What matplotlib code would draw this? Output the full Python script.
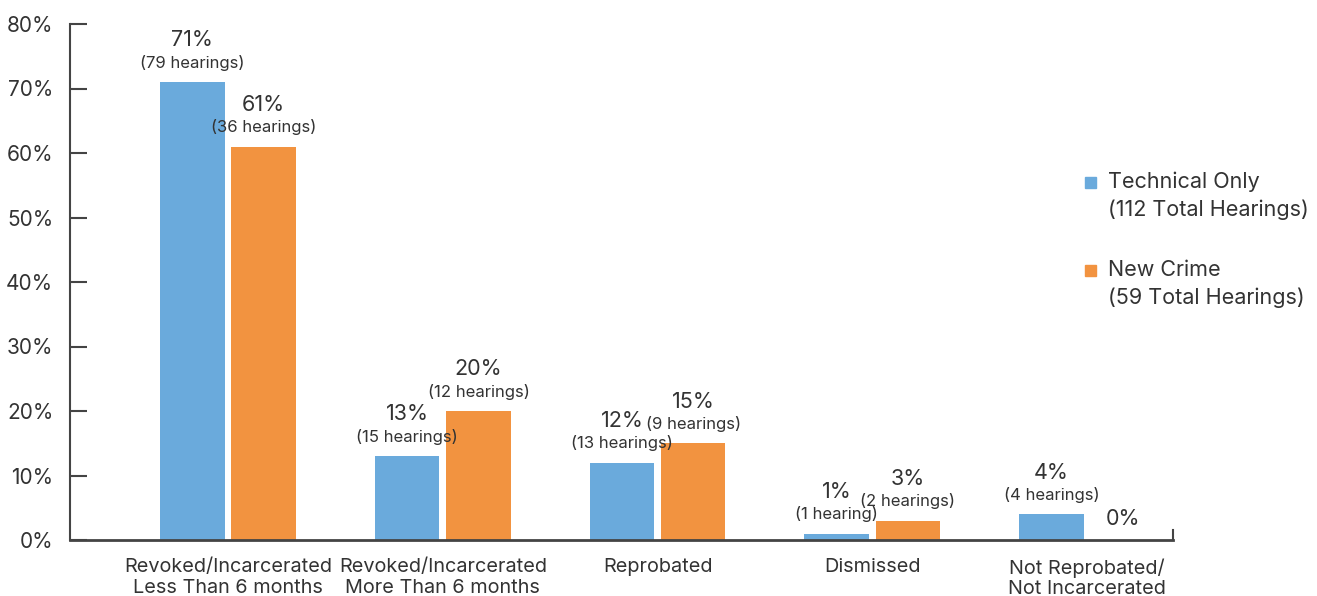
import matplotlib
matplotlib.use("Agg")
import matplotlib.pyplot as plt
import numpy as np
from matplotlib.patches import Rectangle

plt.rcParams["font.family"] = ["Inter", "DejaVu Sans"]

categories = [
    "Revoked/Incarcerated\nLess Than 6 months",
    "Revoked/Incarcerated\nMore Than 6 months",
    "Reprobated",
    "Dismissed",
    "Not Reprobated/\nNot Incarcerated",
]
technical_pct = [71, 13, 12, 1, 4]
technical_n = ["(79 hearings)", "(15 hearings)", "(13 hearings)", "(1 hearing)", "(4 hearings)"]
newcrime_pct = [61, 20, 15, 3, 0]
newcrime_n = ["(36 hearings)", "(12 hearings)", "(9 hearings)", "(2 hearings)", ""]
y_ticks = [0, 10, 20, 30, 40, 50, 60, 70, 80]
legend_labels = [("Technical Only", "(112 Total Hearings)"), ("New Crime", "(59 Total Hearings)")]

BLUE = "#6AAADC"
ORANGE = "#F29340"
TEXT = "#333333"
AXIS = "#444444"

W, H = 1317, 596
fig = plt.figure(figsize=(W / 100, H / 100), dpi=100)
ax = fig.add_axes([70 / W, 1 - 540 / H, (1173 - 70) / W, (540 - 24) / H])

x = np.arange(len(categories))
bw = 0.30
off = 0.166
ax.bar(x - off, technical_pct, bw, color=BLUE)
ax.bar(x + off, newcrime_pct, bw, color=ORANGE)


def label(xpos, pct, n):
    if n:
        ax.annotate(f"{pct}%", (xpos, pct), xytext=(0, 30), textcoords="offset points",
                    ha="center", va="center", fontsize=15.5, color=TEXT)
        ax.annotate(n, (xpos, pct), xytext=(0, 14), textcoords="offset points",
                    ha="center", va="center", fontsize=12, color=TEXT)
    else:
        ax.annotate(f"{pct}%", (xpos, pct), xytext=(0, 15), textcoords="offset points",
                    ha="center", va="center", fontsize=15.5, color=TEXT)


for i in range(len(categories)):
    label(x[i] - off, technical_pct[i], technical_n[i])
    label(x[i] + off, newcrime_pct[i], newcrime_n[i])

ax.set_xlim(-0.736, 4.40)
ax.set_ylim(0, 80)
ax.set_yticks(y_ticks)
ax.set_yticklabels([f"{t}%" for t in y_ticks], fontsize=15, color=TEXT)
ax.set_xticks(x)
ax.set_xticklabels(categories, fontsize=14.3, color=TEXT, linespacing=1.19)

ax.tick_params(axis="y", direction="in", length=12, width=1.5, color=AXIS, pad=12)
ax.tick_params(axis="x", length=0, pad=13)

for s in ["top", "right"]:
    ax.spines[s].set_visible(False)
ax.spines["left"].set_color(AXIS)
ax.spines["left"].set_linewidth(1.5)
ax.spines["bottom"].set_color(AXIS)
ax.spines["bottom"].set_linewidth(2)
ax.axvline(4.40, ymin=0, ymax=10 / 516, color=AXIS, lw=1.5, clip_on=False)

# legend
for j, (l1, l2) in enumerate(legend_labels):
    yc = 182 + j * 88
    fig.add_artist(Rectangle((1085 / W, 1 - (yc + 6) / H), 11 / W, 11 / H,
                             color=[BLUE, ORANGE][j], transform=fig.transFigure))
    fig.text(1108 / W, 1 - yc / H, l1, fontsize=15.5, color=TEXT, va="center", ha="left")
    fig.text(1108 / W, 1 - (yc + 28) / H, l2, fontsize=15.5, color=TEXT, va="center", ha="left")

fig.savefig("out.png", dpi=100)
